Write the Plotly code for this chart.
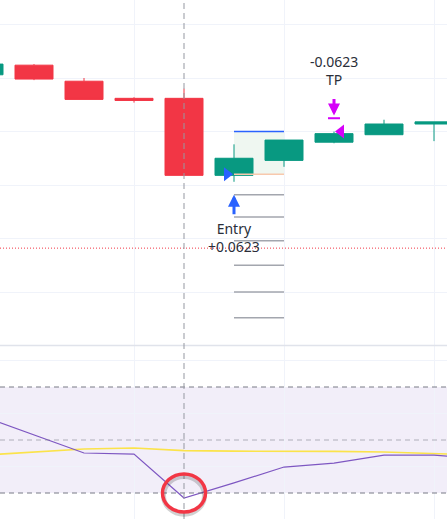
import plotly.graph_objects as go

# candles (bar index, OHLC)
bar_idx = [-1, 0, 1, 2, 3, 4, 5, 6, 7, 8]
opens = [63.53, 63.62, 63.47, 63.31, 63.31, 62.59, 62.73, 62.90, 62.97, 63.07]
highs = [63.64, 63.63, 63.50, 63.32, 63.40, 62.88, 62.92, 63.00, 63.11, 63.09]
lows = [63.52, 63.48, 63.30, 63.27, 62.59, 62.53, 62.67, 62.89, 62.97, 62.91]
closes = [63.63, 63.49, 63.30, 63.29, 62.59, 62.75, 62.92, 62.98, 63.07, 63.09]

# oscillator pane
osc_idx = [-1, 0, 1, 2, 3, 4, 5, 6, 7, 8, 9]
rsi = [58.7, 51.9, 45.1, 44.7, 28.1, 33.8, 39.8, 41.3, 44.3, 44.3, 42.8]
rsi_ma = [44.3, 45.5, 46.6, 47.0, 46.0, 45.8, 45.8, 45.7, 45.5, 45.1, 44.3]
rsi_bands = [70, 50, 30]

# trade
entry_bar = 4
exit_bar = 6
entry_price = 62.60
tp_price = 63.00
entry_arrow_price = 62.41
tp_arrow_price = 63.15
qty_text = "0.0623"
last_price = 61.91
ladder_levels = [62.41, 62.20, 61.98, 61.75, 61.50, 61.26]

GREEN = '#089981'
RED = '#f23645'
BLUE = '#2962ff'
MAGENTA = '#d500f9'
GRID = '#f0f3fa'
FONT = dict(family="Noto Sans, Open Sans, sans-serif", size=14, color='#2a2e39')

split = 1 - 345.5 / 519

fig = go.Figure()

fig.add_trace(go.Candlestick(
    x=bar_idx, open=opens, high=highs, low=lows, close=closes,
    increasing=dict(line=dict(color=GREEN, width=1), fillcolor=GREEN),
    decreasing=dict(line=dict(color=RED, width=1), fillcolor=RED),
    whiskerwidth=0, xaxis='x', yaxis='y', hoverinfo='skip'
))

# entry / exit markers
fig.add_trace(go.Scatter(
    x=[entry_bar - 0.14], y=[entry_price], mode='markers',
    marker=dict(symbol='triangle-right', size=12, color=BLUE),
    xaxis='x', yaxis='y', hoverinfo='skip'
))
fig.add_trace(go.Scatter(
    x=[exit_bar + 0.14], y=[tp_price], mode='markers',
    marker=dict(symbol='triangle-left', size=12, color=MAGENTA),
    xaxis='x', yaxis='y', hoverinfo='skip'
))

# oscillator lines
fig.add_trace(go.Scatter(
    x=osc_idx, y=rsi_ma, mode='lines', line=dict(color='#fbe34a', width=1.6),
    xaxis='x2', yaxis='y2', hoverinfo='skip'
))
fig.add_trace(go.Scatter(
    x=osc_idx, y=rsi, mode='lines', line=dict(color='#7e57c2', width=1.2),
    xaxis='x2', yaxis='y2', hoverinfo='skip'
))

shapes = []

# position box
shapes.append(dict(type='rect', xref='x', yref='y', x0=entry_bar, x1=entry_bar + 1,
                   y0=entry_price, y1=tp_price, fillcolor='#eff7f1',
                   line=dict(width=0), layer='below'))
for lv in ladder_levels:
    shapes.append(dict(type='line', xref='x', yref='y', x0=entry_bar, x1=entry_bar + 1,
                       y0=lv, y1=lv, line=dict(color='#a3a6ae', width=1.5)))
shapes.append(dict(type='line', xref='x', yref='y', x0=entry_bar, x1=entry_bar + 1,
                   y0=entry_price, y1=entry_price, line=dict(color='#f8c9ad', width=1.5)))
shapes.append(dict(type='line', xref='x', yref='y', x0=entry_bar, x1=entry_bar + 1,
                   y0=tp_price, y1=tp_price, line=dict(color=BLUE, width=1.5)))

# last price dotted line
shapes.append(dict(type='line', xref='paper', yref='y', x0=0, x1=1,
                   y0=last_price, y1=last_price,
                   line=dict(color=RED, width=1, dash='1px,2px')))

# TP marker bar under arrow
shapes.append(dict(type='line', xref='x', yref='y', x0=exit_bar - 0.12, x1=exit_bar + 0.12,
                   y0=tp_arrow_price - 0.026, y1=tp_arrow_price - 0.026,
                   line=dict(color=MAGENTA, width=2)))

# oscillator band
shapes.append(dict(type='rect', xref='paper', yref='y2', x0=0, x1=1,
                   y0=rsi_bands[2], y1=rsi_bands[0],
                   fillcolor='rgba(126,87,194,0.1)', line=dict(width=0), layer='below'))
for lv, col in zip(rsi_bands, ['#787b86', 'rgba(120,123,134,0.55)', '#787b86']):
    shapes.append(dict(type='line', xref='paper', yref='y2', x0=0, x1=1, y0=lv, y1=lv,
                       line=dict(color=col, width=1, dash='5px,4px')))

# pane separator
shapes.append(dict(type='line', xref='paper', yref='paper', x0=0, x1=1, y0=split, y1=split,
                   line=dict(color='#e0e3eb', width=1.5)))

# crosshair
low_bar = osc_idx[rsi.index(min(rsi))]
shapes.append(dict(type='line', xref='x', yref='paper', x0=low_bar, x1=low_bar, y0=0, y1=1,
                   line=dict(color='#9598a1', width=1, dash='6px,4px')))

# highlight circle around oscillator low
cy = min(rsi) + 1.9
shapes.append(dict(type='circle', xref='x2', yref='y2', x0=low_bar - 0.41, x1=low_bar + 0.41,
                   y0=cy - 8.0, y1=cy + 6.2, line=dict(color='rgba(0,0,0,0.18)', width=5)))
shapes.append(dict(type='circle', xref='x2', yref='y2', x0=low_bar - 0.43, x1=low_bar + 0.43,
                   y0=cy - 7.2, y1=cy + 7.2, line=dict(color=RED, width=3.5)))

annotations = [
    dict(x=entry_bar, y=entry_arrow_price, xref='x', yref='y', text='', showarrow=True,
         ax=0, ay=21, arrowhead=2, arrowsize=0.8, arrowwidth=3, arrowcolor=BLUE),
    dict(x=entry_bar, y=entry_arrow_price, xref='x', yref='y',
         text='Entry<br>+' + qty_text, showarrow=False, yanchor='middle', yshift=-43,
         font=FONT),
    dict(x=exit_bar, y=tp_arrow_price, xref='x', yref='y', text='', showarrow=True,
         ax=0, ay=-18, arrowhead=2, arrowsize=0.8, arrowwidth=3, arrowcolor=MAGENTA),
    dict(x=exit_bar, y=tp_arrow_price, xref='x', yref='y',
         text='-' + qty_text + '<br>TP', showarrow=False, yanchor='middle', yshift=45,
         font=FONT),
]

xaxis_common = dict(range=[-0.68, 8.26], showticklabels=False, showgrid=True,
                    gridcolor=GRID, gridwidth=1, tick0=-1, dtick=3, zeroline=False,
                    showline=False, fixedrange=True)

fig.update_layout(
    width=447, height=519,
    margin=dict(l=0, r=0, t=0, b=0),
    paper_bgcolor='white', plot_bgcolor='white',
    showlegend=False,
    boxgap=0.24, boxgroupgap=0,
    xaxis=dict(**xaxis_common, anchor='y', rangeslider=dict(visible=False)),
    yaxis=dict(domain=[split, 1], range=[61.0, 64.229], showticklabels=False,
               gridcolor=GRID, tick0=61.0, dtick=0.5, zeroline=False),
    xaxis2=dict(**xaxis_common, anchor='y2', matches='x'),
    yaxis2=dict(domain=[0, split], range=[20.19, 85.66], showticklabels=False,
                gridcolor=GRID, tick0=0, dtick=20, zeroline=False),
    shapes=shapes,
    annotations=annotations,
)

fig.write_html("out.html", config=dict(displayModeBar=False),
               post_script="document.body.style.margin='0px';document.body.style.overflow='hidden';")
